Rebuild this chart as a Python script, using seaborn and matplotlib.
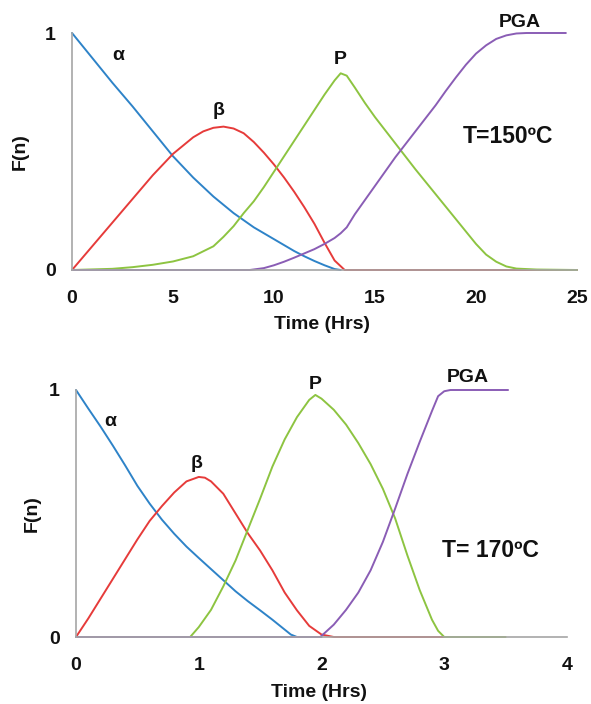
import matplotlib
matplotlib.use("Agg")
import matplotlib.pyplot as plt
import seaborn as sns
import pandas as pd

# ---------------- data: T = 150 ºC ----------------
alpha150_t = [0, 1, 2, 3, 4, 5, 6, 7, 8, 8.5, 9, 9.5, 10, 10.5, 11, 11.5, 12, 12.5, 13, 13.3]
alpha150 = [1.0, 0.895, 0.79, 0.69, 0.585, 0.48, 0.39, 0.31, 0.24, 0.21, 0.18, 0.155, 0.13, 0.105, 0.08, 0.058, 0.038, 0.02, 0.004, 0.0]

beta150_t = [0, 1, 2, 3, 4, 5, 5.5, 6, 6.5, 7, 7.5, 8, 8.5, 9, 9.5, 10, 10.5, 11, 11.5, 12, 12.5, 13, 13.5, 25]
beta150 = [0, 0.10, 0.20, 0.30, 0.40, 0.49, 0.525, 0.56, 0.585, 0.60, 0.605, 0.597, 0.577, 0.54, 0.495, 0.445, 0.39, 0.33, 0.265, 0.195, 0.115, 0.04, 0.0, 0.0]

p150_t = [0, 2, 3, 4, 5, 6, 7, 7.5, 8, 8.5, 9, 9.5, 10, 10.5, 11, 11.5, 12, 12.5, 13, 13.3, 13.6, 14, 14.5, 15, 15.5, 16, 16.5, 17, 18, 19, 20, 20.5, 21, 21.5, 22, 23, 25]
p150 = [0, 0.005, 0.012, 0.022, 0.036, 0.058, 0.10, 0.14, 0.185, 0.24, 0.29, 0.35, 0.415, 0.48, 0.545, 0.61, 0.675, 0.74, 0.80, 0.83, 0.82, 0.77, 0.705, 0.645, 0.59, 0.535, 0.48, 0.425, 0.32, 0.215, 0.11, 0.065, 0.035, 0.015, 0.006, 0.002, 0.0]

pga150_t = [0, 8.8, 9.5, 10, 10.5, 11, 11.5, 12, 12.5, 13, 13.3, 13.6, 14, 14.5, 15, 15.5, 16, 16.5, 17, 17.5, 18, 18.5, 19, 19.5, 20, 20.5, 21, 21.5, 22, 22.5, 24.45]
pga150 = [0, 0, 0.008, 0.02, 0.035, 0.052, 0.07, 0.088, 0.11, 0.135, 0.155, 0.18, 0.235, 0.295, 0.355, 0.415, 0.475, 0.53, 0.585, 0.64, 0.695, 0.755, 0.812, 0.866, 0.913, 0.948, 0.975, 0.99, 0.998, 1.0, 1.0]

# ---------------- data: T = 170 ºC ----------------
alpha170_t = [0, 0.1, 0.2, 0.3, 0.4, 0.5, 0.6, 0.7, 0.8, 0.9, 1.0, 1.1, 1.2, 1.3, 1.4, 1.5, 1.6, 1.7, 1.75, 1.8, 2.0]
alpha170 = [1.0, 0.925, 0.852, 0.775, 0.695, 0.612, 0.54, 0.475, 0.418, 0.366, 0.32, 0.275, 0.23, 0.185, 0.145, 0.108, 0.07, 0.03, 0.01, 0.0, 0.0]

beta170_t = [0, 0.1, 0.2, 0.3, 0.4, 0.5, 0.6, 0.7, 0.8, 0.9, 1.0, 1.05, 1.1, 1.2, 1.3, 1.4, 1.5, 1.6, 1.7, 1.8, 1.9, 2.0, 2.1, 3.0]
beta170 = [0, 0.075, 0.155, 0.235, 0.315, 0.395, 0.47, 0.53, 0.585, 0.63, 0.648, 0.645, 0.63, 0.58, 0.50, 0.42, 0.35, 0.27, 0.18, 0.108, 0.045, 0.01, 0.0, 0.0]

p170_t = [0.93, 1.0, 1.1, 1.2, 1.3, 1.4, 1.5, 1.6, 1.7, 1.8, 1.9, 1.95, 2.0, 2.1, 2.2, 2.3, 2.4, 2.5, 2.6, 2.7, 2.8, 2.9, 2.95, 3.0, 3.5]
p170 = [0, 0.04, 0.11, 0.205, 0.31, 0.435, 0.56, 0.69, 0.80, 0.89, 0.96, 0.98, 0.965, 0.92, 0.86, 0.785, 0.70, 0.60, 0.48, 0.33, 0.19, 0.07, 0.025, 0.0, 0.0]

pga170_t = [0, 1.99, 2.1, 2.2, 2.3, 2.4, 2.5, 2.6, 2.7, 2.8, 2.9, 2.95, 3.0, 3.05, 3.52]
pga170 = [0, 0, 0.05, 0.11, 0.18, 0.27, 0.385, 0.52, 0.66, 0.79, 0.915, 0.975, 0.995, 1.0, 1.0]

series_names = ["α", "β", "P", "PGA"]
colors = ["#2E83C8", "#E63B3A", "#8DC441", "#8A5DB5"]

x_ticks_150 = [0, 5, 10, 15, 20, 25]
x_ticks_170 = [0, 1, 2, 3, 4]
y_ticks = [0, 1]

# label positions (data coords)
labels150 = {"α": (2.29, 0.905), "β": (7.24, 0.672), "P": (13.27, 0.887), "PGA": (22.15, 1.045)}
labels170 = {"α": (0.277, 0.872), "β": (0.983, 0.703), "P": (1.947, 1.024), "PGA": (3.196, 1.051)}

sns.set_theme(style="white")
plt.rcParams["font.family"] = ["Liberation Sans", "DejaVu Sans"]
plt.rcParams["font.weight"] = "bold"

fig = plt.figure(figsize=(5.91, 7.04), dpi=100)
ax1 = fig.add_axes([72 / 591, 1 - 270 / 704, 505 / 591, 237 / 704])
ax2 = fig.add_axes([76 / 591, 1 - 637 / 704, 491 / 591, 247 / 704])

def draw(ax, data, labels, xlim, xticks, temp_text, temp_pos, ylab_x, xlab_y):
    for (t, v), name, c in zip(data, series_names, colors):
        df = pd.DataFrame({"t": t, "F": v})
        sns.lineplot(data=df, x="t", y="F", ax=ax, color=c, linewidth=1.4,
                     estimator=None, sort=False, clip_on=False)
    for name, (x, y) in labels.items():
        ax.text(x, y, name, ha="center", va="center", fontsize=14, fontweight="bold", color="#111111")
    ax.text(temp_pos[0], temp_pos[1], temp_text, ha="center", va="center",
            fontsize=16.5, fontweight="bold", color="#111111")
    ax.set_xlim(*xlim)
    ax.set_ylim(0, 1)
    ax.set_xticks(xticks)
    ax.set_yticks(y_ticks)
    ax.set_xticklabels([str(v) for v in xticks])
    ax.set_yticklabels([str(v) for v in y_ticks])
    for s in ["top", "right"]:
        ax.spines[s].set_visible(False)
    for s in ["left", "bottom"]:
        ax.spines[s].set_color("#A6A6A6")
        ax.spines[s].set_linewidth(1.2)
    ax.tick_params(axis="both", which="major", direction="out", length=4.5, width=1.0,
                   color="#A6A6A6", labelsize=14, labelcolor="#111111")
    ax.tick_params(axis="x", pad=10)
    ax.tick_params(axis="y", pad=7)
    for lab in ax.get_xticklabels() + ax.get_yticklabels():
        lab.set_fontweight("bold")
    ax.set_xlabel("Time (Hrs)", fontsize=14, fontweight="bold", color="#111111")
    ax.set_ylabel("F(n)", fontsize=14, fontweight="bold", color="#111111")
    ax.xaxis.set_label_coords(0.495, xlab_y)
    ax.yaxis.set_label_coords(ylab_x, 0.5)
    ax.set_facecolor("white")

draw(ax1, [(alpha150_t, alpha150), (beta150_t, beta150), (p150_t, p150), (pga150_t, pga150)],
     labels150, (0, 25), x_ticks_150, "T=150ºC", (21.6, 0.563), -0.085, -0.195)
draw(ax2, [(alpha170_t, alpha170), (beta170_t, beta170), (p170_t, p170), (pga170_t, pga170)],
     labels170, (0, 4), x_ticks_170, "T= 170ºC", (3.38, 0.351), -0.072, -0.19)

fig.savefig("out.png", dpi=100, facecolor="white")
